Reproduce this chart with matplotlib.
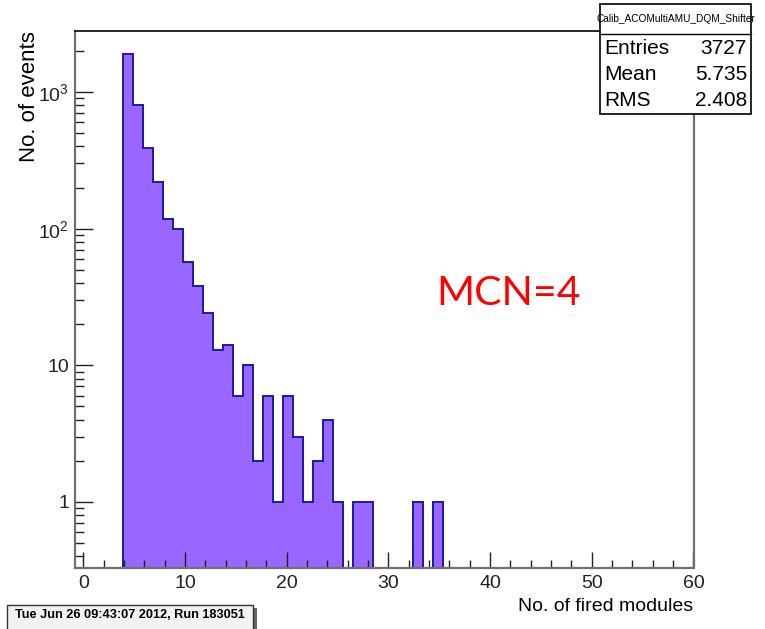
import matplotlib
matplotlib.use('Agg')
import matplotlib.pyplot as plt
import numpy as np
from matplotlib.patches import Rectangle
from matplotlib.ticker import LogLocator, MultipleLocator, FuncFormatter, NullFormatter

# histogram: 61 bins over 0..60, filled from bin 4 on
edges = np.linspace(0, 60, 62)
first_bin = 4
counts = [1907, 800, 390, 220, 118, 100, 57, 38, 24, 13, 14, 6, 10, 2, 6, 1,
          6, 3, 1, 2, 4, 1, 0, 1, 1, 0, 0, 0, 0, 1, 0, 1]

hist_name = 'Calib_ACOMultiAMU_DQM_Shifter'
stat_names = ['Entries', 'Mean', 'RMS']
stat_values = ['3727', '5.735', '2.408']
date_text = 'Tue Jun 26 09:43:07 2012, Run 183051'
note = 'MCN=4'

W, H = 765, 629
FONT = ['Liberation Sans Narrow', 'Liberation Sans', 'DejaVu Sans']
plt.rcParams['font.family'] = FONT
plt.rcParams['mathtext.default'] = 'regular'


def fx(x):
    return x / W


def fy(y):
    return 1 - y / H


full = np.zeros(len(edges) - 1)
full[first_bin:first_bin + len(counts)] = counts

fig = plt.figure(figsize=(W / 100, H / 100), dpi=100)
ax = fig.add_axes([fx(74.5), fy(568.3), fx(693.5) - fx(74.5), fy(30.7) - fy(568.3)])

ax.hist(edges[:-1], bins=edges, weights=full, histtype='stepfilled', log=True,
        facecolor='#9966ff', edgecolor='#1a1aa0', linewidth=1.4)

ax.set_xlim(-0.866, 60)
ax.set_ylim(0.327, 2809)

ax.xaxis.set_major_locator(MultipleLocator(10))
ax.xaxis.set_minor_locator(MultipleLocator(2))
ax.yaxis.set_major_locator(LogLocator(base=10))
ax.yaxis.set_minor_locator(LogLocator(base=10, subs=np.arange(2, 10)))
ax.yaxis.set_minor_formatter(NullFormatter())


def ylab(v, pos):
    e = int(round(np.log10(v)))
    if e == 0:
        return '1'
    if e == 1:
        return '10'
    return '$10^{%d}$' % e


ax.yaxis.set_major_formatter(FuncFormatter(ylab))

ax.tick_params(which='both', direction='in', top=False, right=False,
               colors='#222222', width=1, labelsize=14)
ax.tick_params(axis='x', which='major', length=11.5, pad=5)
ax.tick_params(axis='x', which='minor', length=6)
ax.tick_params(axis='y', which='major', length=13, pad=4)
ax.tick_params(axis='y', which='minor', length=6.5)

for s in ['left', 'bottom', 'right']:
    ax.spines[s].set_color('#707070')
    ax.spines[s].set_linewidth(1.6)
ax.spines['top'].set_color('black')
ax.spines['top'].set_linewidth(1.2)

ax.set_xlabel('No. of fired modules', loc='right', fontsize=14, labelpad=4)
ax.set_ylabel('No. of events', loc='top', fontsize=16, labelpad=-1.5)

fig.text(fx(436), fy(305), note, color='red', fontsize=29.5,
         family=['Lato', 'Open Sans', 'DejaVu Sans'], va='baseline', ha='left')

# stats box
fig.add_artist(Rectangle((fx(600), fy(114)), fx(751) - fx(600), fy(4) - fy(114),
                         transform=fig.transFigure, facecolor='white',
                         edgecolor='black', linewidth=1.2))
fig.add_artist(plt.Line2D([fx(600), fx(751)], [fy(34), fy(34)],
                          transform=fig.transFigure, color='black', linewidth=1.0))
fig.text(fx(675.5), fy(19), hist_name, fontsize=7.3, ha='center', va='center')
for i, (n, v) in enumerate(zip(stat_names, stat_values)):
    yy = fy(48 + 26.5 * i)
    fig.text(fx(604), yy, n, fontsize=15, ha='left', va='center')
    fig.text(fx(747), yy, v, fontsize=15, ha='right', va='center')

# date box with shadow on the right
fig.add_artist(Rectangle((fx(252), fy(632)), fx(257) - fx(252), fy(608) - fy(632),
                         transform=fig.transFigure, facecolor='#666666',
                         edgecolor='none'))
fig.add_artist(Rectangle((fx(7), fy(632)), fx(253) - fx(7), fy(605) - fy(632),
                         transform=fig.transFigure, facecolor='#f2f2f2',
                         edgecolor='#333333', linewidth=1.0))
fig.text(fx(15), fy(615), date_text, fontsize=9.2, fontweight='bold',
         ha='left', va='center')

fig.savefig('out.png', dpi=100)
